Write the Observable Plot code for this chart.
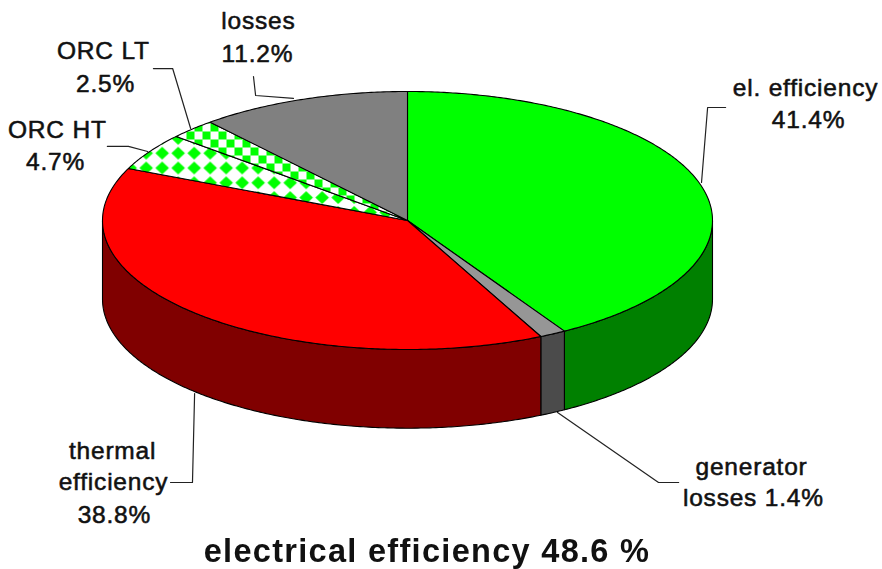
<!DOCTYPE html>
<html><head><meta charset="utf-8">
<script src="https://cdn.jsdelivr.net/npm/d3@7"></script>
<script src="https://cdn.jsdelivr.net/npm/@observablehq/plot@0.6"></script>
<style>
html,body{margin:0;padding:0;background:#fff;}
#chart svg{display:block;}
#title{font:bold 32.5px "Liberation Sans",Arial,sans-serif;letter-spacing:1.3px;color:#111;text-align:center;width:854px;line-height:40px;height:38px;}
#page{width:882px;height:569px;overflow:hidden;filter:blur(0.35px);}
</style></head><body>
<div id="page"><div id="chart"></div><div id="title">electrical efficiency 48.6 %</div></div>
<script>
// Data, clockwise from 12 o'clock
const sliceNames  = ["el. efficiency","generator losses","thermal efficiency","ORC HT","ORC LT","losses"];
const sliceValues = [41.4,1.4,38.8,4.7,2.5,11.2];
const topColors   = ["#00ff00","#969696","#ff0000","url(#orcHT)","url(#orcLT)","#808080"];
const sideColors  = ["#008000","#4b4b4b","#800000","#008000","#008000","#4b4b4b"];

// Text labels, one row per line of text (position in pie units)
const labelLines = [
  ["el. efficiency",1.305,1.023],["41.4%",1.315,0.775],
  ["generator",1.128,-1.915],["losses 1.4%",1.134,-2.155],
  ["thermal",-0.967,-1.791],["efficiency",-0.964,-2.031],["38.8%",-0.961,-2.287],
  ["ORC HT",-1.148,0.698],["4.7%",-1.154,0.450],
  ["ORC LT",-0.997,1.310],["2.5%",-0.990,1.054],
  ["losses",-0.489,1.543],["11.2%",-0.492,1.287]
];
// Leader lines
const leaders = [
  [[0.964,0.295],[0.984,0.876],[1.043,0.876]],
  [[0.492,-1.488],[0.823,-2.031],[0.889,-2.031]],
  [[-0.698,-1.341],[-0.705,-2.031],[-0.777,-2.031]],
  [[-0.852,0.535],[-0.915,0.574],[-0.984,0.574]],
  [[-0.711,0.713],[-0.770,1.178],[-0.833,1.178]],
  [[-0.374,0.946],[-0.498,0.969],[-0.505,1.116]]
];

const depth = 0.61; // thickness of the disc, in pie units of y
const total = d3.sum(sliceValues);
let acc = 0;
const slices = sliceValues.map((v,i)=>{
  const a0 = acc/total*2*Math.PI; acc += v; const a1 = acc/total*2*Math.PI;
  return {name:sliceNames[i],a0,a1,top:topColors[i],side:sideColors[i]};
});
const rim = (a,dz=0)=>({x:Math.sin(a),y:Math.cos(a)-dz});
const arc = (a0,a1,dz=0)=>{
  const n = Math.max(2,Math.ceil((a1-a0)/0.01));
  return d3.range(n+1).map(k=>rim(a0+(a1-a0)*k/n,dz));
};
const topPoly = s=>[{x:0,y:0},...arc(s.a0,s.a1),{x:0,y:0}];
// The wall is visible only along the front half of the disc
const sidePoly = s=>{
  const a0 = Math.max(s.a0,Math.PI/2), a1 = Math.min(s.a1,Math.PI*3/2);
  if (a1<=a0) return null;
  const p=[...arc(a0,a1),...arc(a0,a1,depth).reverse()];
  return [...p,p[0]];
};

const defs = ()=>{
  const ns="http://www.w3.org/2000/svg";
  const d=document.createElementNS(ns,"defs");
  d.innerHTML=`
  <pattern id="orcHT" patternUnits="userSpaceOnUse" width="16" height="14.8" x="9.7" y="12.1">
    <rect width="16" height="14.8" fill="#fff"/>
    <path d="M8 0.9 L14.8 7.4 L8 13.9 L1.2 7.4Z" fill="#00ff00"/>
  </pattern>
  <pattern id="orcLT" patternUnits="userSpaceOnUse" width="16" height="16" x="2" y="11">
    <rect width="16" height="16" fill="#fff"/>
    <rect x="0" y="0" width="8" height="8" fill="#00ff00"/>
    <rect x="8" y="8" width="8" height="8" fill="#00ff00"/>
  </pattern>`;
  return d;
};

const sliceLine = (pts,fill)=>Plot.line(pts,{x:"x",y:"y",fill,stroke:"#000",strokeWidth:1.1,strokeLinejoin:"round"});
const plot = Plot.plot({
  width:882,height:531,margin:0,
  x:{axis:null,domain:[-407/305,475/305],range:[0,882]},
  y:{axis:null,domain:[220/129,-311/129],range:[0,531]},
  style:{background:"#fff",letterSpacing:"0.8px"},
  marks:[
    defs,
    ...slices.map(s=>{const p=sidePoly(s);return p?sliceLine(p,s.side):null;}),
    ...slices.map(s=>sliceLine(topPoly(s),s.top)),
    ...leaders.map(l=>Plot.line(l,{x:d=>d[0],y:d=>d[1],stroke:"#222",strokeWidth:1.2})),
    Plot.text(labelLines,{x:d=>d[1],y:d=>d[2],text:d=>d[0],fontSize:24.5,fontFamily:"Liberation Sans",fill:"#111",textAnchor:"middle",lineAnchor:"middle",stroke:"#111",strokeWidth:0.55})
  ]
});
document.getElementById("chart").appendChild(plot);
</script></body></html>
